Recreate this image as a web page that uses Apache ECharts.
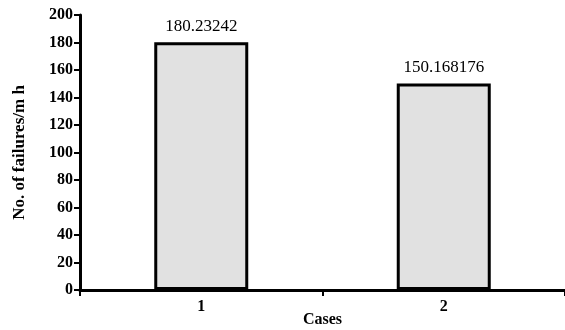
<!DOCTYPE html>
<html><head><meta charset="utf-8">
<script src="https://cdn.jsdelivr.net/npm/echarts@6/dist/echarts.min.js"></script>
<style>html,body{margin:0;padding:0;background:#fff}#c{width:565px;height:330px}</style>
</head><body><div id="c"></div>
<script>
var categories = ['1', '2'];
var values = [180.23242, 150.168176];
var labels = ['180.23242', '150.168176'];
var yMin = 0, yMax = 200, yInterval = 20;

var font = 'serif';
var chart = echarts.init(document.getElementById('c'), null, {renderer: 'canvas'});
chart.setOption({
  animation: false,
  backgroundColor: '#fff',
  grid: {left: 80, right: 0, top: 15, bottom: 40, containLabel: false, outerBoundsMode: 'none'},
  xAxis: {
    type: 'category', data: categories, boundaryGap: true,
    name: 'Cases', nameLocation: 'middle', nameGap: 22, nameMoveOverlap: false,
    nameTextStyle: {fontFamily: font, fontWeight: 'bold', fontSize: 16, color: '#000'},
    axisLine: {lineStyle: {color: '#000', width: 3}},
    axisTick: {show: true, length: 6, lineStyle: {color: '#000', width: 2}},
    axisLabel: {fontFamily: font, fontWeight: 'bold', fontSize: 16, color: '#000', margin: 9}
  },
  yAxis: {
    type: 'value', min: yMin, max: yMax, interval: yInterval,
    name: 'No. of failures/m h', nameLocation: 'middle', nameGap: 52, nameMoveOverlap: false,
    nameTextStyle: {fontFamily: font, fontWeight: 'bold', fontSize: 17, color: '#000'},
    splitLine: {show: false},
    axisLine: {show: true, lineStyle: {color: '#000', width: 3}},
    axisTick: {show: true, length: 6, lineStyle: {color: '#000', width: 2}},
    axisLabel: {fontFamily: font, fontWeight: 'bold', fontSize: 16, color: '#000', margin: 7}
  },
  series: [{
    type: 'bar', data: values, barWidth: 94,
    itemStyle: {color: '#e1e1e1', borderColor: '#000', borderWidth: 3},
    label: {show: true, position: 'top', distance: 7, fontFamily: font, fontSize: 17, color: '#000',
      formatter: function(p){ return labels[p.dataIndex]; }}
  }]
});
</script></body></html>
